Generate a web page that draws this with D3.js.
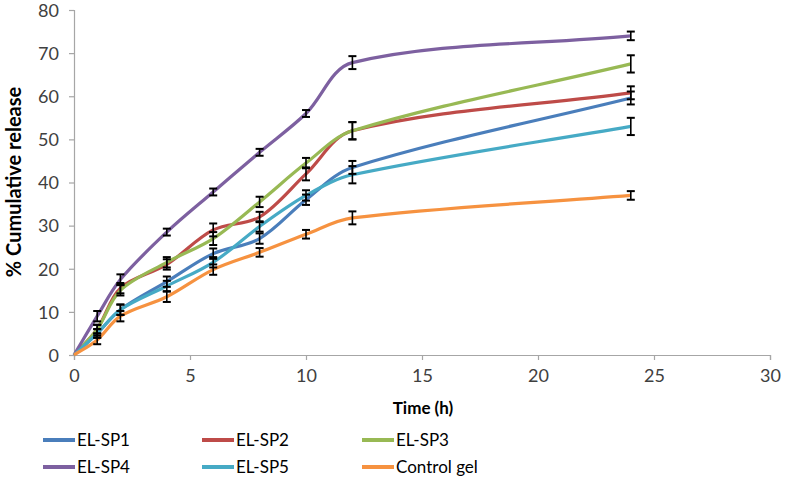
<!DOCTYPE html>
<html><head><meta charset="utf-8">
<script src="https://cdn.jsdelivr.net/npm/d3@7/dist/d3.min.js"></script>
<style>body{margin:0;background:#fff}svg{display:block}</style>
</head><body>
<svg id="c" width="785" height="479"></svg>
<script>
const times = [0, 1, 2, 4, 6, 8, 10, 12, 24];
const seriesNames = ["EL-SP1", "EL-SP2", "EL-SP3", "EL-SP4", "EL-SP5", "Control gel"];
const sp1 = [0, 5, 10.5, 17, 23.5, 27, 36, 43.5, 59.6];
const sp2 = [0, 6, 15.5, 21, 29, 32, 42, 52, 60.8];
const sp3 = [0, 6, 15, 21.5, 27, 35.5, 44.5, 52, 67.5];
const sp4 = [0, 9, 17.5, 28.5, 37.8, 47, 56, 67.8, 74];
const sp5 = [0, 5, 10.5, 16, 21.5, 29.8, 37, 41.8, 53];
const ctrl = [0, 3.5, 9, 13.5, 19.8, 23.8, 28, 31.8, 37];
const err1 = [0, 1, 1.2, 1.2, 1.2, 1.2, 1.2, 1.5, 1.5];
const err2 = [0, 1, 1.2, 1.2, 1.5, 1.2, 1.5, 2, 1.5];
const err3 = [0, 1, 1.2, 1.2, 1.5, 1.2, 1.2, 2, 2];
const err4 = [0, 1.2, 1.2, 0.8, 0.8, 0.8, 0.8, 1.5, 1];
const err5 = [0, 1, 1.2, 1.2, 1.2, 1.2, 1.2, 2, 2];
const errC = [0, 1, 1.2, 1.2, 1.2, 1, 1, 1.5, 1];
const xTicks = [0, 5, 10, 15, 20, 25, 30];
const yTicks = [0, 10, 20, 30, 40, 50, 60, 70, 80];
const colors = ["#4a7ebb", "#be4b48", "#98b954", "#7d60a0", "#46aac5", "#f69240"];

const values = [sp1, sp2, sp3, sp4, sp5, ctrl];
const errs = [err1, err2, err3, err4, err5, errC];
const font = "Lato,'Open Sans',sans-serif";

const svg = d3.select("#c");
const x = d3.scaleLinear().domain([0, 30]).range([74, 770]);
const y = d3.scaleLinear().domain([0, 80]).range([355, 10]);

// axes
const xAxis = svg.append("g").attr("transform", `translate(0,${y(0)})`)
  .call(d3.axisBottom(x).tickValues(xTicks).tickSize(5).tickPadding(9));
const yAxis = svg.append("g").attr("transform", `translate(${x(0)},0)`)
  .call(d3.axisLeft(y).tickValues(yTicks).tickSize(5).tickPadding(10));
[xAxis, yAxis].forEach(a => {
  a.selectAll("path,line").attr("stroke", "#a6a6a6").attr("stroke-width", 1.2);
  a.selectAll("text").attr("fill", "#404040").style("font-family", font).style("font-size", "18px");
});
yAxis.selectAll("text").attr("dy", "0.35em");

// axis titles
svg.append("text").attr("x", 423).attr("y", 414).attr("text-anchor", "middle")
  .style("font-family", font).style("font-size", "17px").style("font-weight", "bold")
  .attr("fill", "#000").text("Time (h)");
svg.append("text").attr("transform", `translate(21,182) rotate(-90)`).attr("text-anchor", "middle")
  .style("font-family", font).style("font-size", "20px").style("font-weight", "bold")
  .attr("fill", "#000").text("% Cumulative release");

// Excel-like smoothed line: chord-length scaled Catmull-Rom Bezier
function smoothPath(pts) {
  const p = d3.path();
  const n = pts.length;
  const dist = (a, b) => Math.hypot(b[0] - a[0], b[1] - a[1]);
  p.moveTo(pts[0][0], pts[0][1]);
  for (let i = 0; i < n - 1; i++) {
    const p0 = pts[Math.max(i - 1, 0)], p1 = pts[i], p2 = pts[i + 1], p3 = pts[Math.min(i + 2, n - 1)];
    const d01 = dist(p0, p1), d12 = dist(p1, p2), d23 = dist(p2, p3);
    const s1 = d12 / (d01 + d12) / 3;
    const s2 = d12 / (d12 + d23) / 3;
    const c1 = [p1[0] + (p2[0] - p0[0]) * s1, p1[1] + (p2[1] - p0[1]) * s1];
    const c2 = [p2[0] - (p3[0] - p1[0]) * s2, p2[1] - (p3[1] - p1[1]) * s2];
    p.bezierCurveTo(c1[0], c1[1], c2[0], c2[1], p2[0], p2[1]);
  }
  return p.toString();
}

values.forEach((vals, i) => {
  const pts = times.map((t, j) => [x(t), y(vals[j])]);
  svg.append("path").attr("d", smoothPath(pts)).attr("fill", "none").attr("stroke", colors[i])
    .attr("stroke-width", 3.2).attr("stroke-linejoin", "round");
});

// error bars
values.forEach((vals, i) => {
  const g = svg.append("g").attr("stroke", "#000").attr("stroke-width", 1.6);
  times.forEach((t, j) => {
    const e = errs[i][j];
    if (!e) return;
    const cx = x(t), y1 = y(vals[j] + e), y2 = y(vals[j] - e);
    g.append("line").attr("x1", cx).attr("x2", cx).attr("y1", y1).attr("y2", y2);
    g.append("line").attr("x1", cx - 4).attr("x2", cx + 4).attr("y1", y1).attr("y2", y1).attr("stroke-width", 2);
    g.append("line").attr("x1", cx - 4).attr("x2", cx + 4).attr("y1", y2).attr("y2", y2).attr("stroke-width", 2);
  });
});

// legend
const legX = [43, 202, 362];
const legY = [440, 467];
seriesNames.forEach((name, i) => {
  const lx = legX[i % 3], ly = legY[Math.floor(i / 3)];
  svg.append("line").attr("x1", lx).attr("x2", lx + 32).attr("y1", ly).attr("y2", ly)
    .attr("stroke", colors[i]).attr("stroke-width", 4);
  svg.append("text").attr("x", lx + 34).attr("y", ly).attr("dy", "0.35em")
    .style("font-family", font).style("font-size", "17px").attr("fill", "#000").text(name);
});
</script>
</body></html>
